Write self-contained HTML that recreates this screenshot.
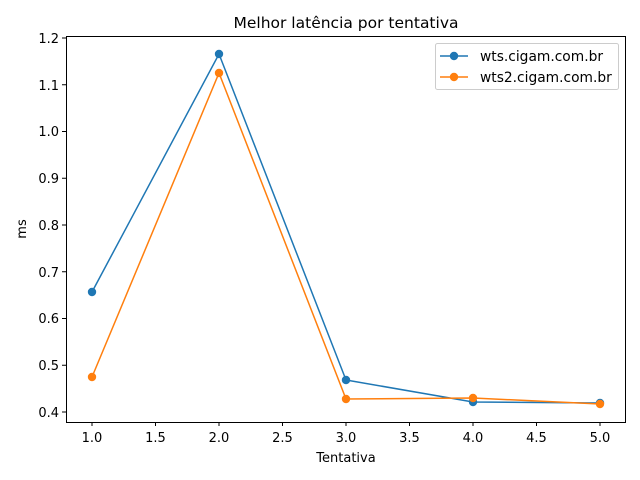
<!DOCTYPE html>
<html><head><meta charset="utf-8"><style>body{margin:0;background:#fff}svg{display:block}text{font-family:"DejaVu Sans","Liberation Sans",sans-serif;fill:#000}</style></head><body>
<svg width="640" height="480" xmlns="http://www.w3.org/2000/svg">
<rect x="66.5" y="36.5" width="559" height="386" fill="none" stroke="#000" stroke-width="1"/>
<g stroke="#000" stroke-width="1">
<line x1="92" y1="422" x2="92" y2="426"/><line x1="155.5" y1="422" x2="155.5" y2="426"/><line x1="219" y1="422" x2="219" y2="426"/><line x1="282.5" y1="422" x2="282.5" y2="426"/><line x1="346" y1="422" x2="346" y2="426"/><line x1="409.5" y1="422" x2="409.5" y2="426"/><line x1="473" y1="422" x2="473" y2="426"/><line x1="536.5" y1="422" x2="536.5" y2="426"/><line x1="600" y1="422" x2="600" y2="426"/>
<line x1="62" y1="412" x2="66" y2="412"/><line x1="62" y1="365.25" x2="66" y2="365.25"/><line x1="62" y1="318.5" x2="66" y2="318.5"/><line x1="62" y1="271.75" x2="66" y2="271.75"/><line x1="62" y1="225" x2="66" y2="225"/><line x1="62" y1="178.25" x2="66" y2="178.25"/><line x1="62" y1="131.5" x2="66" y2="131.5"/><line x1="62" y1="84.75" x2="66" y2="84.75"/><line x1="62" y1="38" x2="66" y2="38"/>
</g>
<g font-size="13" text-anchor="middle">
<text x="92" y="442">1.0</text><text x="155.5" y="442">1.5</text><text x="219" y="442">2.0</text><text x="282.5" y="442">2.5</text><text x="346" y="442">3.0</text><text x="409.5" y="442">3.5</text><text x="473" y="442">4.0</text><text x="536.5" y="442">4.5</text><text x="600" y="442">5.0</text>
</g>
<g font-size="13" text-anchor="end">
<text x="59" y="417">0.4</text><text x="59" y="370">0.5</text><text x="59" y="323">0.6</text><text x="59" y="277">0.7</text><text x="59" y="230">0.8</text><text x="59" y="183">0.9</text><text x="59" y="136">1.0</text><text x="59" y="90">1.1</text><text x="59" y="43">1.2</text>
</g>
<text x="346" y="462" font-size="13" text-anchor="middle">Tentativa</text>
<text x="26" y="229" font-size="13" text-anchor="middle" transform="rotate(-90 26 229)">ms</text>
<text x="346" y="28" font-size="15.5" text-anchor="middle">Melhor latência por tentativa</text>
<polyline points="92,292 219,54 346,380 473,402 600,403" fill="none" stroke="#1f77b4" stroke-width="1.5"/>
<g fill="#1f77b4"><circle cx="92" cy="292" r="4.2"/><circle cx="219" cy="54" r="4.2"/><circle cx="346" cy="380" r="4.2"/><circle cx="473" cy="402" r="4.2"/><circle cx="600" cy="403" r="4.2"/></g>
<polyline points="92,377 219,73 346,399 473,398 600,404" fill="none" stroke="#ff7f0e" stroke-width="1.5"/>
<g fill="#ff7f0e"><circle cx="92" cy="377" r="4.2"/><circle cx="219" cy="73" r="4.2"/><circle cx="346" cy="399" r="4.2"/><circle cx="473" cy="398" r="4.2"/><circle cx="600" cy="404" r="4.2"/></g>
<rect x="435.5" y="43.5" width="183" height="46" rx="2" fill="#fff" fill-opacity="0.8" stroke="#ccc"/>
<line x1="440" y1="56" x2="468" y2="56" stroke="#1f77b4" stroke-width="1.5"/><circle cx="454" cy="56" r="4.2" fill="#1f77b4"/>
<text x="480" y="61" font-size="13.8">wts.cigam.com.br</text>
<line x1="440" y1="77" x2="468" y2="77" stroke="#ff7f0e" stroke-width="1.5"/><circle cx="454" cy="77" r="4.2" fill="#ff7f0e"/>
<text x="480" y="82" font-size="13.8">wts2.cigam.com.br</text>
</svg>
</body></html>
